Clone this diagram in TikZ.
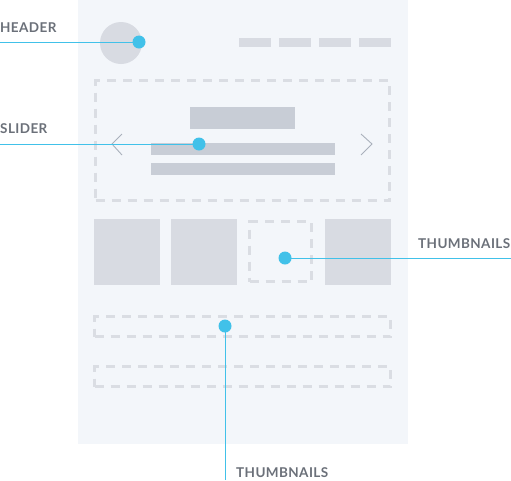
\documentclass[tikz,border=0pt]{standalone}
\usepackage{fontspec}
\newfontfamily\labelfont{Lato}[LetterSpace=3]
\usepackage{xcolor}
\usetikzlibrary{positioning}
\definecolor{panelbg}{HTML}{F3F6FA}
\definecolor{blockgray}{HTML}{D8DBE2}
\definecolor{bargray}{HTML}{C8CDD6}
\definecolor{dashgray}{HTML}{DADDE3}
\definecolor{chevgray}{HTML}{A9B0BB}
\definecolor{pinblue}{HTML}{41C1E9}
\definecolor{labelgray}{HTML}{6B7079}
\tikzset{
  block/.style={rectangle, fill=blockgray, inner sep=0pt, outer sep=0pt, anchor=north west},
  bar/.style={rectangle, fill=bargray, inner sep=0pt, outer sep=0pt, anchor=north west},
  dashbox/.style={rectangle, draw=dashgray, line width=3pt,
    dash pattern=on 9pt off 7pt, inner sep=0pt, outer sep=0pt, anchor=north west},
  pin/.style={circle, fill=pinblue, minimum size=13pt, inner sep=0pt},
  pinline/.style={draw=pinblue, line width=1pt},
  callout/.style={font=\labelfont\bfseries\fontsize{13.5}{14}\selectfont,
    text=labelgray, inner sep=0pt, anchor=base west},
  chevron/.style={draw=chevgray, line width=0.9pt},
}

\begin{document}
\begin{tikzpicture}[x=1pt, y=-1pt]
  \useasboundingbox (0,0) rectangle (511,480);
  % page
  \node[rectangle, fill=panelbg, inner sep=0pt, outer sep=0pt, anchor=north west,
    minimum width=330pt, minimum height=444pt] (page) at (78,0) {};
  % header
  \node[circle, fill=blockgray, minimum size=42pt, inner sep=0pt] (logo) at (121,43) {};
  \foreach \i/\x in {1/239, 2/279, 3/319, 4/359}
    \node[block, minimum width=32pt, minimum height=9pt] (menu\i) at (\x,38) {};
  % slider
  \node[dashbox, minimum width=294pt, minimum height=120pt] (slider) at (95.5,80.5) {};
  \node[bar, minimum width=105pt, minimum height=22pt] (title) at (190,107) {};
  \node[bar, minimum width=184pt, minimum height=12pt] (line1) at (151,143) {};
  \node[bar, minimum width=184pt, minimum height=12pt] (line2) at (151,163) {};
  \draw[chevron] (122,134) -- (112,144) -- (122,155);
  \draw[chevron] (361,134) -- (372,144) -- (361,155);
  % thumbnails
  \node[block, minimum width=66pt, minimum height=66pt] (thumb1) at (94,219) {};
  \node[block, minimum width=66pt, minimum height=66pt] (thumb2) at (171,219) {};
  \node[dashbox, minimum width=62pt, minimum height=60pt] (thumb3) at (249.5,221.5) {};
  \node[block, minimum width=66pt, minimum height=66pt] (thumb4) at (325,219) {};
  % strips
  \node[dashbox, minimum width=296pt, minimum height=20pt] (strip1) at (94.5,316.5) {};
  \node[dashbox, minimum width=296pt, minimum height=20pt] (strip2) at (94.5,366.5) {};

  % callouts
  \node[pin] (hdrpin) at (139,42) {};
  \node[pin] (sldpin) at (199,144) {};
  \node[pin] (thmpin) at (285,258) {};
  \node[pin] (strpin) at (225,326) {};
  \coordinate (hdrend) at (0,42);
  \coordinate (sldend) at (0,144);
  \coordinate (thmend) at (511,258);
  \coordinate (strend) at (225,480);
  \draw[pinline] (hdrpin.center) -- (hdrend);
  \draw[pinline] (sldpin.center) -- (sldend);
  \draw[pinline] (thmpin.center) -- (thmend);
  \draw[pinline] (strpin.center) -- (strend);
  \node[callout] (hdrlabel) at (0,32) {HEADER};
  \node[callout] (sldlabel) at (0,133) {SLIDER};
  \node[callout] (thmlabel) at (418,248) {THUMBNAILS};
  \node[callout] (strlabel) at (236,477) {THUMBNAILS};
\end{tikzpicture}
\end{document}
